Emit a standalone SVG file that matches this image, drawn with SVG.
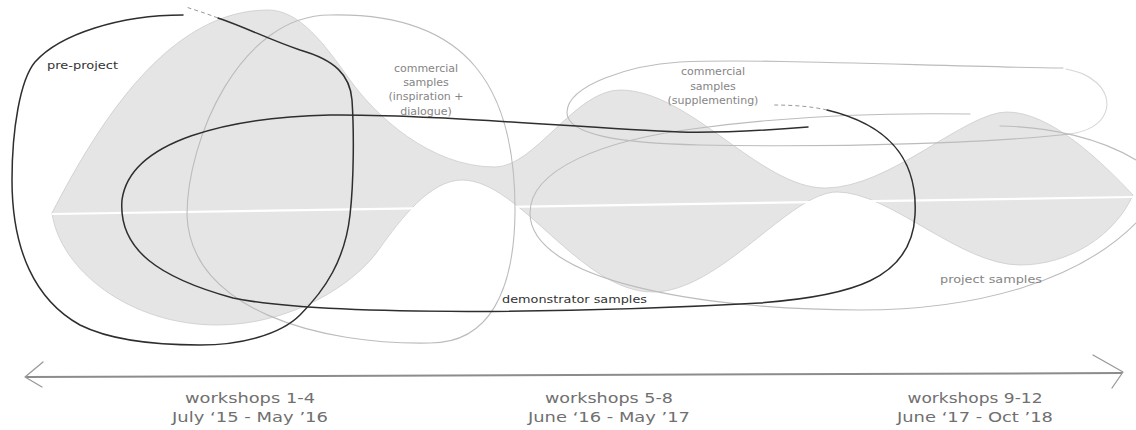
<svg xmlns="http://www.w3.org/2000/svg" width="1136" height="430" viewBox="0 0 1136 430">
<style>
.band{fill:#e5e5e5;stroke:#cbcbcb;stroke-width:0.8}
.dark{fill:none;stroke:#2e2e2e;stroke-width:1.5;stroke-linecap:round}
.fade{fill:none;stroke:#9a9a9a;stroke-width:1;stroke-dasharray:4 3}
.light{fill:none;stroke:#bcbcbc;stroke-width:1.1;stroke-linecap:round}
.lbl{font-family:"DejaVu Sans",sans-serif;font-size:11px}
.lblDark{fill:#333}
.lblGray{fill:#858585}
.period{font-family:"DejaVu Sans",sans-serif;font-size:13.5px;fill:#707070;text-anchor:middle}
.axis{fill:none;stroke:#8c8c8c;stroke-width:2}
.head{fill:none;stroke:#999;stroke-width:1.3;stroke-linecap:round;stroke-linejoin:round}
</style>
<rect width="1136" height="430" fill="#fff"/>
<g id="band">
<path class="band" d="M52,213 C100,120 170,10 268,10 C300,10 325,45 350,80 C375,115 430,167 495,167 C535,167 575,90 620,90 C690,90 760,188 825,188 C890,188 965,112 1007,112 C1050,112 1100,160 1133,195 C1115,235 1070,265 1020,265 C960,265 890,192 837,192 C790,192 720,292 653,292 C580,292 520,180 462,180 C430,180 400,220 380,248 C355,285 290,325 217,325 C130,325 60,270 52,213 Z"/>
<path d="M52,214 L1133,197" stroke="#fff" stroke-width="2.2" fill="none"/>
</g>
<g id="commercial-inspiration">
<path class="light" d="M187,215 C187,140 240,15 330,15 C470,12 516,90 515,213 C514,290 490,343 430,343 C320,345 190,310 187,215 Z"/>
<text class="lbl lblGray" text-anchor="middle"><tspan x="426" y="72">commercial</tspan><tspan x="426" y="86">samples</tspan><tspan x="426" y="100">(inspiration +</tspan><tspan x="426" y="115">dialogue)</tspan></text>
</g>
<g id="commercial-supplementing">
<path class="light" d="M1063,68 C950,67 760,58 680,62 C630,65 568,85 567,112 C566,135 620,143 700,145 C850,148 1000,142 1070,134"/>
<path class="light" stroke-opacity="0.6" d="M1070,134 C1110,128 1115,100 1097,83 C1088,75 1080,72 1066,69"/>
<text class="lbl lblGray" text-anchor="middle"><tspan x="713" y="75">commercial</tspan><tspan x="713" y="90">samples</tspan><tspan x="713" y="104">(supplementing)</tspan></text>
</g>
<g id="project-samples">
<path class="light" d="M1000,126 C1050,127 1100,138 1136,160 C1165,178 1160,205 1137,222 C1080,280 980,310 860,310 C700,310 530,280 530,213 C530,170 600,140 700,128 C760,120 850,112 970,114"/>
<text class="lbl lblGray" x="940" y="283" textLength="102" lengthAdjust="spacingAndGlyphs">project samples</text>
</g>
<g id="pre-project">
<path class="dark" d="M183,15 C120,15 60,34 35,62 C20,80 12,130 12,180 C12,250 35,300 80,325 C110,340 150,345 200,345 C240,345 280,335 300,315 C325,290 345,260 350,215 C354,180 354,130 352,100 C350,75 335,60 300,50 C270,40 245,27 218,18"/>
<path class="fade" d="M218,18 C205,13 195,10 186,7"/>
<text class="lbl lblDark" x="47" y="69" textLength="71" lengthAdjust="spacingAndGlyphs">pre-project</text>
</g>
<g id="demonstrator-samples">
<path class="dark" d="M808,127 C770,130 720,133 680,132 C580,128 430,114 330,115 C230,117 130,140 122,200 C118,250 160,278 233,298 C330,318 600,312 760,303 C850,296 912,280 915,215 C918,160 890,125 827,110"/>
<path class="fade" d="M827,110 C810,106 790,105 772,105"/>
<text class="lbl lblDark" x="502" y="303" textLength="145" lengthAdjust="spacingAndGlyphs">demonstrator samples</text>
</g>
<g id="connectors">
<path class="axis" d="M26,377 L1122,373"/>
<polyline class="head" points="43,362 25,377 42,387"/>
<polyline class="head" points="1093,355 1123,372 1112,388"/>
</g>
<g id="period-1">
<text class="period" x="250" y="403" textLength="130" lengthAdjust="spacingAndGlyphs">workshops 1-4</text>
<text class="period" x="250" y="422" textLength="156" lengthAdjust="spacingAndGlyphs">July ‘15 - May ’16</text>
</g>
<g id="period-2">
<text class="period" x="609" y="403" textLength="128" lengthAdjust="spacingAndGlyphs">workshops 5-8</text>
<text class="period" x="609" y="422" textLength="162" lengthAdjust="spacingAndGlyphs">June ‘16 - May ’17</text>
</g>
<g id="period-3">
<text class="period" x="975" y="403" textLength="135" lengthAdjust="spacingAndGlyphs">workshops 9-12</text>
<text class="period" x="975" y="422" textLength="156" lengthAdjust="spacingAndGlyphs">June ‘17 - Oct ’18</text>
</g>
</svg>
